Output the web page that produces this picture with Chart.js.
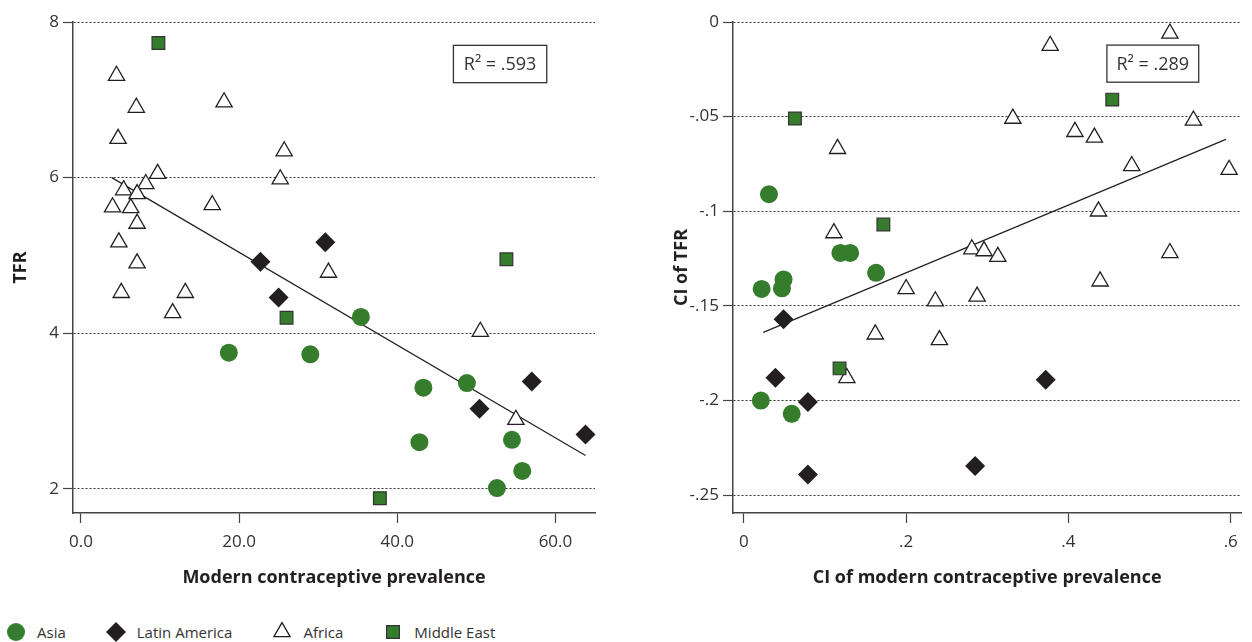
<!DOCTYPE html>
<html>
<head>
<meta charset="utf-8">
<title>TFR et prévalence contraceptive</title>
<script src="https://cdn.jsdelivr.net/npm/chart.js@4.4.0/dist/chart.umd.min.js"></script>
<style>
    body { margin: 0; background: #fff; width: 1252px; height: 642px; overflow: hidden; position: relative; font-family: "Open Sans", sans-serif; }
    #graphiqueGauche { position: absolute; left: 0; top: 0; }
    #graphiqueDroite { position: absolute; left: 626px; top: 0; }
    #legende { position: absolute; left: 5px; top: 621px; display: flex; align-items: center; font-size: 15px; color: #333; }
    .element-legende { display: flex; align-items: center; margin-right: 39px; }
    .element-legende span { margin-left: 10px; }
</style>
</head>
<body>
<canvas id="graphiqueGauche" width="626" height="600"></canvas>
<canvas id="graphiqueDroite" width="626" height="600"></canvas>
<div id="legende"></div>

<script>
// ==========================================================
// DONNEES
// ==========================================================
const groupes = ['Asia', 'Latin America', 'Africa', 'Middle East'];

// Panneau gauche : prévalence contraceptive moderne (x) / TFR (y)
const asiaPrev = [18.7, 29.0, 35.4, 43.3, 48.8, 42.8, 54.5, 55.8, 52.6];
const asiaTfr = [3.75, 3.73, 4.21, 3.30, 3.36, 2.60, 2.63, 2.23, 2.01];
const latamPrev = [22.7, 25.0, 30.9, 57.0, 50.4, 63.8];
const latamTfr = [4.92, 4.46, 5.17, 3.38, 3.03, 2.70];
const africaPrev = [4.5, 7.0, 18.1, 4.7, 25.7, 9.7, 25.2, 8.2, 5.4, 7.1, 4.0, 6.3, 16.6, 7.1, 4.8, 7.1, 5.1, 13.2, 11.6, 31.3, 50.5, 55.0];
const africaTfr = [7.31, 6.90, 6.97, 6.50, 6.34, 6.05, 5.98, 5.92, 5.84, 5.79, 5.62, 5.61, 5.65, 5.41, 5.17, 4.90, 4.52, 4.52, 4.26, 4.78, 4.02, 2.89];
const meastPrev = [9.8, 26.0, 53.8, 37.8];
const meastTfr = [7.73, 4.20, 4.95, 1.88];

// Panneau droit : CI de la prévalence (x) / CI du TFR (y)
const asiaCiPrev = [0.031, 0.119, 0.131, 0.163, 0.022, 0.049, 0.047, 0.021, 0.059];
const asiaCiTfr = [-0.091, -0.122, -0.122, -0.1325, -0.141, -0.136, -0.1407, -0.200, -0.207];
const latamCiPrev = [0.049, 0.039, 0.079, 0.079, 0.372, 0.285];
const latamCiTfr = [-0.157, -0.188, -0.2007, -0.239, -0.189, -0.2346];
const africaCiPrev = [0.1155, 0.111, 0.200, 0.236, 0.162, 0.241, 0.127, 0.525, 0.3775, 0.3315, 0.554, 0.408, 0.432, 0.478, 0.598, 0.437, 0.281, 0.296, 0.313, 0.525, 0.439, 0.2875];
const africaCiTfr = [-0.067, -0.1115, -0.141, -0.1475, -0.165, -0.168, -0.188, -0.006, -0.0125, -0.051, -0.052, -0.058, -0.061, -0.076, -0.078, -0.100, -0.120, -0.121, -0.124, -0.122, -0.137, -0.145];
const meastCiPrev = [0.063, 0.172, 0.118, 0.454];
const meastCiTfr = [-0.051, -0.107, -0.183, -0.041];

// Droites de régression (extrémités)
const droitePrev = [3.9, 63.8];
const droiteTfr = [6.0, 2.43];
const droiteCiPrev = [0.024, 0.594];
const droiteCiTfr = [-0.164, -0.062];

// Graduations et R²
const ticksPrev = [0, 20, 40, 60];
const ticksTfr = [2, 4, 6, 8];
const ticksCiPrev = [0, 0.2, 0.4, 0.6];
const ticksCiTfr = [0, -0.05, -0.1, -0.15, -0.2, -0.25];
const r2Gauche = '.593';
const r2Droite = '.289';

// ==========================================================
// STYLES
// ==========================================================
const POLICE = '"Open Sans", sans-serif';
const VERT = '#357c2c';
const NOIR = '#231f20';

const stylesGroupes = {
    'Asia': { forme: 'circle', rayon: 9, fond: VERT, bord: VERT, epaisseur: 0 },
    'Latin America': { forme: 'rectRot', rayon: 10, fond: NOIR, bord: NOIR, epaisseur: 0 },
    'Africa': { forme: 'triangle', rayon: 9.4, fond: '#ffffff', bord: NOIR, epaisseur: 1.3 },
    'Middle East': { forme: 'rect', rayon: 9, fond: VERT, bord: '#333', epaisseur: 1.2 }
};

Chart.defaults.font.family = POLICE;

const enPoints = (xs, ys) => xs.map((x, i) => ({ x: x, y: ys[i] }));

function jeuGroupe(nom, xs, ys, ordre) {
    const s = stylesGroupes[nom];
    return {
        label: nom,
        data: enPoints(xs, ys),
        pointStyle: s.forme,
        pointRadius: s.rayon,
        pointHoverRadius: s.rayon,
        pointBackgroundColor: s.fond,
        pointBorderColor: s.bord,
        pointBorderWidth: s.epaisseur,
        backgroundColor: s.fond,
        borderColor: s.bord,
        order: ordre,
        clip: false
    };
}

function jeuDroite(xs, ys) {
    return {
        label: 'fit',
        data: enPoints(xs, ys),
        showLine: true,
        pointRadius: 0,
        borderColor: NOIR,
        borderWidth: 1.2,
        fill: false,
        order: 10
    };
}

// Encadré "R² = ..." placé dans les coordonnées des axes
const pluginEncadre = {
    id: 'encadreR2',
    afterDatasetsDraw(chart, args, opts) {
        const { ctx, scales } = chart;
        const g = scales.x.getPixelForValue(opts.x1);
        const d = scales.x.getPixelForValue(opts.x2);
        const h = scales.y.getPixelForValue(opts.y1);
        const b = scales.y.getPixelForValue(opts.y2);
        ctx.save();
        ctx.fillStyle = '#fff';
        ctx.fillRect(g, h, d - g, b - h);
        ctx.strokeStyle = '#333';
        ctx.lineWidth = 1.3;
        ctx.strokeRect(g, h, d - g, b - h);
        ctx.fillStyle = '#333';
        ctx.font = '18px ' + POLICE;
        ctx.textAlign = 'center';
        ctx.textBaseline = 'middle';
        ctx.fillText(opts.texte, (g + d) / 2, (h + b) / 2 + 1);
        ctx.restore();
    }
};

function echelleX(min, max, valeurs, format, titre) {
    return {
        type: 'linear', position: 'bottom', min: min, max: max,
        afterBuildTicks: (s) => { s.ticks = valeurs.map(v => ({ value: v })); },
        afterFit: (s) => { s.height = 87; },
        ticks: { callback: format, color: '#333', padding: 3, font: { size: 17, lineHeight: 1.9 } },
        grid: { drawOnChartArea: false, drawTicks: true, tickLength: 10, tickColor: '#444', tickWidth: 1.2 },
        border: { display: true, color: '#444', width: 1.5 },
        title: { display: true, text: titre, color: NOIR, font: { size: 18, weight: 'bold' }, padding: { top: 0, bottom: 11 } }
    };
}

function echelleY(min, max, valeurs, format, titre, largeur, decalageTitre) {
    return {
        type: 'linear', position: 'left', min: min, max: max,
        afterBuildTicks: (s) => { s.ticks = valeurs.map(v => ({ value: v })); },
        afterFit: (s) => { s.width = largeur; },
        ticks: { callback: format, color: '#333', padding: 4, font: { size: 17 } },
        grid: { color: '#333', lineWidth: 1, tickLength: 10, tickColor: '#444', tickWidth: 1.2, tickBorderDash: [] },
        border: { display: true, color: '#444', width: 1.5, dash: [2, 2] },
        title: { display: true, text: titre, color: NOIR, font: { size: 18, weight: 'bold' }, padding: { top: decalageTitre, bottom: 0 } }
    };
}

const sansZero = (v) => v === 0 ? '0' : String(v).replace('0.', '.');

function creerGraphique(idCanvas, jeux, echelles, encadre, margeDroite) {
    return new Chart(document.getElementById(idCanvas), {
        type: 'scatter',
        data: { datasets: jeux },
        options: {
            responsive: false,
            animation: false,
            devicePixelRatio: 1,
            layout: { padding: { left: 0, top: 22, right: margeDroite, bottom: 0 } },
            plugins: { legend: { display: false }, tooltip: { enabled: false }, encadreR2: encadre },
            scales: echelles
        },
        plugins: [pluginEncadre]
    });
}

// ==========================================================
// GRAPHIQUES
// ==========================================================
creerGraphique('graphiqueGauche', [
    jeuGroupe('Middle East', meastPrev, meastTfr, 0),
    jeuGroupe('Latin America', latamPrev, latamTfr, 1),
    jeuGroupe('Asia', asiaPrev, asiaTfr, 2),
    jeuGroupe('Africa', africaPrev, africaTfr, 3),
    jeuDroite(droitePrev, droiteTfr)
], {
    x: echelleX(-1.0, 65.0, ticksPrev, v => v.toFixed(1), 'Modern contraceptive prevalence'),
    y: echelleY(1.69, 8, ticksTfr, v => String(v), 'TFR', 73, 10)
}, { x1: 47.1, x2: 58.9, y1: 7.70, y2: 7.22, texte: 'R\u00B2 = ' + r2Gauche }, 31);

creerGraphique('graphiqueDroite', [
    jeuGroupe('Middle East', meastCiPrev, meastCiTfr, 0),
    jeuGroupe('Latin America', latamCiPrev, latamCiTfr, 1),
    jeuGroupe('Asia', asiaCiPrev, asiaCiTfr, 2),
    jeuGroupe('Africa', africaCiPrev, africaCiTfr, 3),
    jeuDroite(droiteCiPrev, droiteCiTfr)
], {
    x: echelleX(-0.0133, 0.613, ticksCiPrev, sansZero, 'CI of modern contraceptive prevalence'),
    y: echelleY(-0.2594, 0, ticksCiTfr, sansZero, 'CI of TFR', 107, 45)
}, { x1: 0.4474, x2: 0.5605, y1: -0.0122, y2: -0.0318, texte: 'R\u00B2 = ' + r2Droite }, 2);

// ==========================================================
// LEGENDE
// ==========================================================
const legende = document.getElementById('legende');
groupes.forEach(nom => {
    const s = stylesGroupes[nom];
    const element = document.createElement('div');
    element.className = 'element-legende';
    const marqueur = document.createElement('canvas');
    marqueur.width = 22;
    marqueur.height = 22;
    const c = marqueur.getContext('2d');
    c.fillStyle = s.fond;
    c.strokeStyle = s.bord;
    c.lineWidth = s.epaisseur;
    Chart.helpers.drawPoint(c, { pointStyle: s.forme, rotation: 0, radius: s.rayon, borderWidth: s.epaisseur }, 11, 11);
    const texte = document.createElement('span');
    texte.textContent = nom;
    element.appendChild(marqueur);
    element.appendChild(texte);
    legende.appendChild(element);
});
</script>
</body>
</html>
